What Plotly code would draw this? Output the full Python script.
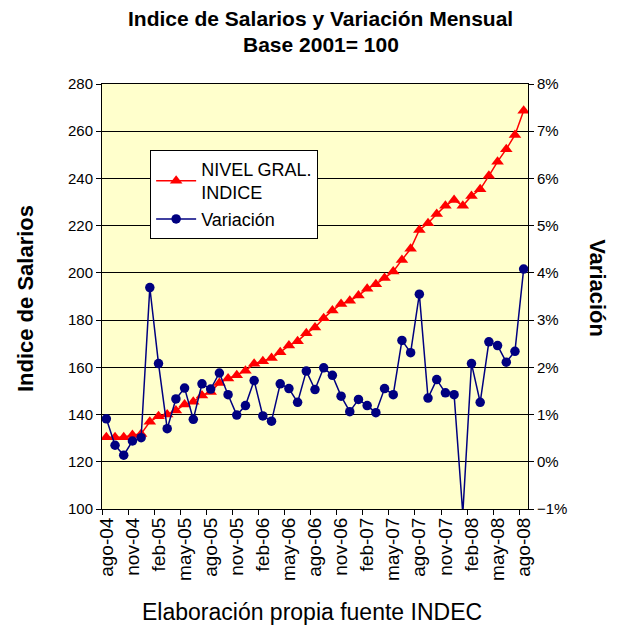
import plotly.graph_objects as go

meses = ["ene", "feb", "mar", "abr", "may", "jun", "jul", "ago", "sep", "oct", "nov", "dic"]
periodos = []
for anio in range(2004, 2009):
    for m in meses:
        periodos.append(m + "-" + str(anio)[2:])
periodos = periodos[periodos.index("ago-04"):periodos.index("ago-08") + 1]

# nivel general del indice de salarios (base 2001 = 100)
indice = [130.4, 130.4, 130.4, 131.3, 131.8, 136.9, 139.3, 140.0, 141.7, 144.3,
          145.4, 148.1, 149.6, 153.4, 155.3, 156.7, 158.6, 161.5, 162.6, 163.9,
          166.4, 169.2, 171.1, 174.4, 176.9, 180.8, 184.1, 186.8, 188.2, 190.4,
          193.3, 195.2, 197.8, 200.6, 205.5, 210.2, 218.2, 221.0, 224.9, 228.4,
          230.9, 228.4, 232.6, 235.4, 241.1, 247.1, 252.4, 258.4, 268.7]

# variacion mensual (%)
variacion = [0.91, 0.35, 0.14, 0.44, 0.51, 3.69, 2.08, 0.70, 1.33, 1.56,
             0.90, 1.65, 1.54, 1.88, 1.42, 0.99, 1.19, 1.72, 0.97, 0.86,
             1.65, 1.55, 1.26, 1.92, 1.53, 1.99, 1.83, 1.39, 1.06, 1.32,
             1.19, 1.04, 1.55, 1.42, 2.57, 2.31, 3.55, 1.35, 1.74, 1.46,
             1.42, -1.1, 2.08, 1.26, 2.54, 2.46, 2.11, 2.34, 4.08]

fuente = "Liberation Sans, Arial, sans-serif"

fig = go.Figure()
fig.add_trace(go.Scatter(x=periodos, y=indice, name="NIVEL GRAL.<br>INDICE",
                         mode="lines+markers",
                         line=dict(color="#FF0000", width=1.5),
                         marker=dict(symbol="triangle-up", size=11, color="#FF0000")))
fig.add_trace(go.Scatter(x=periodos, y=variacion, name="Variación", yaxis="y2",
                         mode="lines+markers",
                         line=dict(color="#000080", width=1.5),
                         marker=dict(symbol="circle", size=9.5, color="#000080")))

# la pagina tiene 8px de margen en el body: la figura se reduce en esa medida
fig.update_layout(
    width=614, height=622,
    margin=dict(l=94, r=94, t=76, b=121),
    paper_bgcolor="white", plot_bgcolor="#FFFFCC",
    font=dict(family=fuente, size=15, color="black"),
    xaxis=dict(type="category", tickmode="linear", dtick=3, tickson="boundaries",
               tickangle=-90, ticks="outside", ticklen=5, tickcolor="black",
               tickfont=dict(size=19),
               showgrid=False, showline=True, linecolor="black", mirror=True,
               range=[-0.5, 48.5], automargin=False),
    yaxis=dict(range=[100, 280], dtick=20, ticks="outside", ticklen=5, tickcolor="black",
               showgrid=True, gridcolor="black", gridwidth=1,
               showline=True, linecolor="black", mirror=True, zeroline=False,
               automargin=False),
    yaxis2=dict(range=[-1, 8], dtick=1, ticksuffix="%", overlaying="y", side="right",
                ticks="outside", ticklen=5, tickcolor="black",
                showgrid=False, zeroline=False, showline=True, linecolor="black",
                automargin=False),
    legend=dict(x=0.113, y=0.845, xanchor="left", yanchor="top",
                bgcolor="white", bordercolor="black", borderwidth=1,
                font=dict(size=18), tracegroupgap=0, itemwidth=40),
    showlegend=True,
    annotations=[
        dict(text="<b>Indice de Salarios y Variación Mensual</b>", x=0.514, y=1.155,
             font=dict(size=21)),
        dict(text="<b>Base 2001= 100</b>", x=0.514, y=1.092, font=dict(size=21)),
        dict(text="<b>Indice de Salarios</b>", textangle=-90, x=-0.181, y=0.496,
             font=dict(size=22)),
        dict(text="<b>Variación</b>", textangle=90, x=1.164, y=0.52,
             font=dict(size=22)),
        dict(text="Elaboración propia fuente INDEC", x=0.493, y=-0.242,
             font=dict(size=23)),
    ],
)
for a in fig.layout.annotations:
    a.update(xref="paper", yref="paper", xanchor="center", yanchor="middle",
             showarrow=False)

fig.write_html("out.html")
